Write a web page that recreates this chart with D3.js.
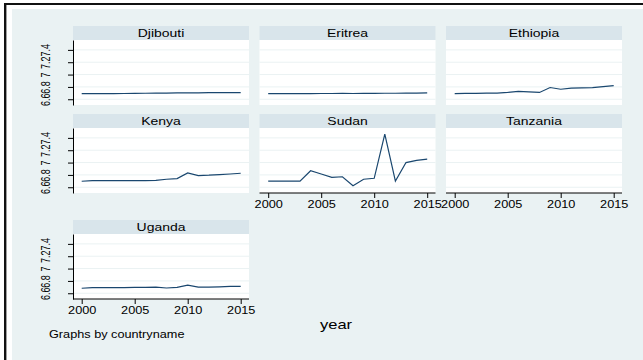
<!DOCTYPE html>
<html>
<head>
<meta charset="utf-8">
<script src="https://cdn.jsdelivr.net/npm/d3@7"></script>
<style>
  html, body { margin: 0; padding: 0; background: #ffffff; overflow: hidden; }
  svg { display: block; }
  text { font-family: "Liberation Sans", Arial, Helvetica, sans-serif; fill: #000; }
</style>
</head>
<body>
<svg id="chart" width="643" height="360"></svg>
<script>
// Yearly series per country (log scale values)
const years = [2000, 2001, 2002, 2003, 2004, 2005, 2006, 2007, 2008, 2009, 2010, 2011, 2012, 2013, 2014, 2015];
const countries = ["Djibouti", "Eritrea", "Ethiopia", "Kenya", "Sudan", "Tanzania", "Uganda"];

const djibouti = [6.690, 6.690, 6.691, 6.692, 6.693, 6.695, 6.697, 6.699, 6.700, 6.702, 6.704, 6.705, 6.706, 6.707, 6.708, 6.709];
const eritrea  = [6.690, 6.690, 6.691, 6.692, 6.692, 6.693, 6.693, 6.694, 6.693, 6.695, 6.696, 6.697, 6.697, 6.698, 6.699, 6.705];
const ethiopia = [6.692, 6.695, 6.695, 6.700, 6.700, 6.710, 6.727, 6.720, 6.710, 6.790, 6.762, 6.780, 6.785, 6.790, 6.805, 6.820];
const kenya    = [6.697, 6.707, 6.707, 6.707, 6.707, 6.707, 6.707, 6.710, 6.730, 6.740, 6.832, 6.790, 6.795, 6.805, 6.815, 6.827];
const sudan    = [6.700, 6.700, 6.700, 6.700, 6.868, 6.815, 6.760, 6.770, 6.625, 6.730, 6.745, 7.460, 6.700, 7.000, 7.035, 7.057];
const tanzania = [];
const uganda   = [6.681, 6.690, 6.690, 6.690, 6.690, 6.695, 6.695, 6.700, 6.685, 6.695, 6.730, 6.700, 6.700, 6.705, 6.710, 6.710];

const seriesByCountry = [djibouti, eritrea, ethiopia, kenya, sudan, tanzania, uganda];

const yTicks = [6.6, 6.8, 7, 7.2, 7.4];
const yTickLabels = ["6.6", "6.8", "7", "7.2", "7.4"];
const xTicks = [2000, 2005, 2010, 2015];
const xTitle = "year";
const note = "Graphs by countryname";

// Layout
const W = 643, H = 360;
const SX = 1.27;                 // horizontal text stretch
const SY_LAB = 1.42;             // stretch across the rotated y labels
const colX = [73, 259.5, 446];
const panelW = 176;
const rowTop = [40, 128, 234];   // top of each plot region
const plotH = 65;
const stripH = 14;

const C = {
  bg: "#eaf2f3",
  strip: "#d9e5eb",
  plot: "#ffffff",
  grid: "#eaf2f3",
  line: "#1a476f",
  axis: "#000000"
};

const svg = d3.select("#chart");

// Outer frame and graph region
svg.append("rect").attr("x", 0).attr("y", 0).attr("width", W).attr("height", H).attr("fill", "#ffffff");
svg.append("rect").attr("x", 12).attr("y", 9).attr("width", W - 12).attr("height", H - 9).attr("fill", C.bg);
svg.append("line").attr("x1", 4).attr("x2", W).attr("y1", 4).attr("y2", 4)
  .attr("stroke", "#111").attr("stroke-width", 2.2);
svg.append("line").attr("x1", 5.2).attr("x2", 5.2).attr("y1", 3).attr("y2", H)
  .attr("stroke", "#111").attr("stroke-width", 2.4);

const yScaleFor = top => d3.scaleLinear().domain([6.507, 7.56]).range([top + plotH, top]);
const xScaleFor = left => d3.scaleLinear().domain([2000, 2015]).range([left + 8.7, left + panelW - 8.3]);

countries.forEach((name, i) => {
  const col = i % 3, row = Math.floor(i / 3);
  const left = colX[col], top = rowTop[row];
  const x = xScaleFor(left);
  const y = yScaleFor(top);
  const g = svg.append("g");

  // strip with country name
  g.append("rect").attr("x", left).attr("y", top - stripH).attr("width", panelW).attr("height", stripH)
    .attr("fill", C.strip);
  g.append("text")
    .attr("transform", `translate(${left + panelW / 2},${top - stripH + 11}) scale(${SX},1)`)
    .attr("text-anchor", "middle").attr("font-size", 11).text(name);

  // plot region
  g.append("rect").attr("x", left).attr("y", top).attr("width", panelW).attr("height", plotH)
    .attr("fill", C.plot);

  // gridlines
  g.selectAll("line.grid").data(yTicks).join("line").attr("class", "grid")
    .attr("x1", left).attr("x2", left + panelW)
    .attr("y1", d => y(d)).attr("y2", d => y(d))
    .attr("stroke", C.grid).attr("stroke-width", 1);

  // series line
  const vals = seriesByCountry[i];
  if (vals.length) {
    const pts = years.map((yr, k) => [yr, vals[k]]);
    g.append("path").datum(pts)
      .attr("d", d3.line().x(d => x(d[0])).y(d => y(d[1])))
      .attr("fill", "none").attr("stroke", C.line).attr("stroke-width", 1.2)
      .attr("stroke-linejoin", "miter");
  }

  // left axis on first column
  if (col === 0) {
    const ax = g.append("g").attr("transform", `translate(${left},0)`)
      .call(d3.axisLeft(y).tickValues(yTicks).tickSize(5).tickSizeOuter(0)
        .tickFormat((d, k) => yTickLabels[k]));
    ax.select(".domain").attr("stroke", C.axis);
    ax.selectAll(".tick line").attr("stroke", C.axis);
    ax.selectAll(".tick text")
      .attr("x", null).attr("dy", null).attr("text-anchor", "middle")
      .attr("font-size", 9).attr("font-family", "Liberation Sans, Arial, sans-serif").attr("fill", "#000")
      .attr("transform", `translate(-23,0) scale(${SY_LAB},1) rotate(-90)`);
  }

  // bottom axis where no panel sits below
  if (i + 3 >= countries.length) {
    g.append("line").attr("x1", left).attr("x2", left + panelW)
      .attr("y1", top + plotH).attr("y2", top + plotH)
      .attr("stroke", C.axis).attr("stroke-width", 1);
    const bx = g.append("g").attr("transform", `translate(0,${top + plotH})`)
      .call(d3.axisBottom(x).tickValues(xTicks).tickSize(5).tickSizeOuter(0).tickFormat(d3.format("d")));
    bx.select(".domain").remove();
    bx.selectAll(".tick line").attr("stroke", C.axis);
    bx.selectAll(".tick text")
      .attr("y", null).attr("dy", null).attr("text-anchor", "middle")
      .attr("font-size", 10).attr("font-family", "Liberation Sans, Arial, sans-serif").attr("fill", "#000")
      .attr("transform", `translate(0,15) scale(${SX},1)`);
  }
});

// x title and note
svg.append("text").attr("transform", `translate(336,329) scale(${SX},1)`)
  .attr("text-anchor", "middle").attr("font-size", 13).text(xTitle);
svg.append("text").attr("transform", `translate(49,338) scale(${SX},1)`)
  .attr("text-anchor", "start").attr("font-size", 10).text(note);
</script>
</body>
</html>
